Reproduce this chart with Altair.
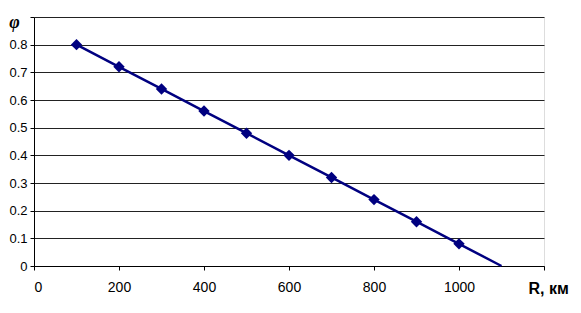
import altair as alt
import pandas as pd

R = [100, 200, 300, 400, 500, 600, 700, 800, 900, 1000]
phi = [0.80, 0.72, 0.64, 0.56, 0.48, 0.40, 0.32, 0.24, 0.16, 0.08]
R_end = [1100]
phi_end = [0.0]
x_ticks = [0, 200, 400, 600, 800, 1000, 1200]
y_ticks = [0, 0.1, 0.2, 0.3, 0.4, 0.5, 0.6, 0.7, 0.8, 0.9]

pts = pd.DataFrame({"R": R, "phi": phi})
line_df = pd.DataFrame({"R": R + R_end, "phi": phi + phi_end})

FONT = "Liberation Sans"
NAVY = "#000080"

xscale = alt.Scale(domain=[0, 1200], nice=False, zero=False)
yscale = alt.Scale(domain=[0, 0.9], nice=False)

xaxis = alt.Axis(
    values=x_ticks,
    labelExpr="datum.value == 1200 ? '' : datum.label",
    format="d",
    grid=False,
    labelOverlap=False,
    domainColor="black",
    tickColor="black",
    tickSize=4,
    labelFont=FONT,
    labelFontSize=14,
    labelColor="black",
    labelPadding=10,
    title="R, км",
    titleFont=FONT,
    titleFontSize=16,
    titleFontWeight="bold",
    titleColor="black",
    titleAlign="left",
    titleBaseline="alphabetic",
    titleX=494,
    titleY=27,
)

yaxis = alt.Axis(
    values=y_ticks,
    tickCount=10,
    labelExpr="datum.value > 0.85 ? '' : (datum.value == 0 ? '0' : format(datum.value, '.1f'))",
    labelOverlap=False,
    labelBound=False,
    grid=True,
    gridColor="#222222",
    gridWidth=1,
    gridOpacity=1,
    domainColor="black",
    tickColor="black",
    tickSize=4,
    labelFont=FONT,
    labelFontSize=13,
    labelColor="black",
    labelPadding=3,
    title="φ",
    titleFont="Liberation Serif",
    titleFontSize=18,
    titleFontWeight="bold",
    titleFontStyle="italic",
    titleColor="black",
    titleAngle=0,
    titleAlign="center",
    titleBaseline="middle",
    titleX=-20,
    titleY=5,
)

line = alt.Chart(line_df).mark_line(color=NAVY, strokeWidth=2.5).encode(
    x=alt.X("R:Q", scale=xscale, axis=xaxis),
    y=alt.Y("phi:Q", scale=yscale, axis=yaxis),
)

points = alt.Chart(pts).mark_point(
    shape="diamond", filled=True, color=NAVY, size=130, opacity=1
).encode(
    x=alt.X("R:Q", scale=xscale, axis=xaxis),
    y=alt.Y("phi:Q", scale=yscale, axis=yaxis),
)

chart = (
    (line + points)
    .properties(
        width=510,
        height=249,
        autosize=alt.AutoSizeParams(type="none"),
        padding={"left": 26, "top": 9, "right": 29, "bottom": 39},
    )
    .configure_view(stroke="#888888", strokeWidth=1)
    .configure(background="white")
)

chart.save("out.html", embed_options={"renderer": "svg", "actions": False})
